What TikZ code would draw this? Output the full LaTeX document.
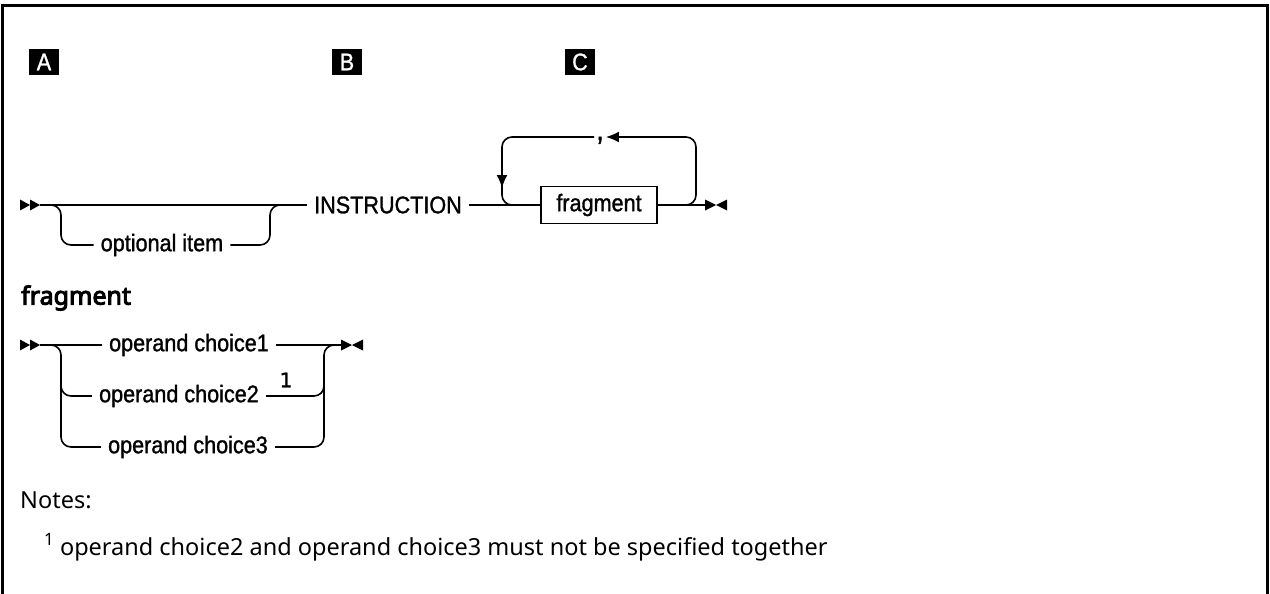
\documentclass[tikz,border=0pt]{standalone}
\usepackage{fontspec}
\setmainfont{Noto Sans}
\newfontfamily\headfont[FakeBold=4]{Noto Sans}
\newfontfamily\rrfont[FakeStretch=0.9, FakeBold=1.2]{Liberation Sans}
\newfontfamily\supfont[FakeBold=1.5]{DejaVu Sans}
\usetikzlibrary{calc, positioning, arrows.meta}

\tikzset{
  rail/.style={line width=1.6pt, rounded corners=10pt},
  rr/.style={font=\rrfont\fontsize{24}{28}\selectfont, inner xsep=7pt, inner ysep=0pt},
  marker/.style={fill=black, text=white, font=\rrfont\fontsize{24}{28}\selectfont,
    minimum width=30pt, minimum height=26pt, inner sep=0pt},
  tip/.style={fill=black},
  notes/.style={font=\fontsize{23.5}{29}\selectfont, anchor=west, inner sep=0pt}
}

\newcommand{\startmark}[1]{% two filled triangles
  \fill[tip] ($(#1)+(-20,-5.5)$) -- ($(#1)+(-10,0)$) -- ($(#1)+(-20,5.5)$) -- cycle;
  \fill[tip] ($(#1)+(-10,-5.5)$) -- ($(#1)+(0,0)$) -- ($(#1)+(-10,5.5)$) -- cycle;
}
\newcommand{\stopmark}[1]{% bow tie
  \fill[tip] ($(#1)+(0,-5.5)$) -- ($(#1)+(11,0)$) -- ($(#1)+(0,5.5)$) -- cycle;
  \fill[tip] ($(#1)+(22,-5.5)$) -- ($(#1)+(11,0)$) -- ($(#1)+(22,5.5)$) -- cycle;
}

\begin{document}
\begin{tikzpicture}[x=1pt, y=-1pt, >={Latex[length=13pt, width=11pt]}]
  \useasboundingbox (0,0) rectangle (1270,594);
  % frame, open at the bottom
  \draw[line width=3pt] (2,600) -- (2,6) -- (1267,6) -- (1267,600);

  % markers
  \node[marker] (mA) at (44,62) {A};
  \node[marker] (mB) at (347,62) {B};
  \node[marker] (mC) at (580,62) {C};

  % main statement
  \coordinate (s1) at (40,205);
  \startmark{s1}
  \node[rr] (opt) at (162,245) {optional item};
  \node[rr] (instr) at (388,205) {INSTRUCTION};
  \node[draw, line width=1.6pt, font=\rrfont\fontsize{24}{28}\selectfont,
    minimum width=116pt, minimum height=37pt, inner sep=0pt] (fragbox) at (599,205) {fragment};
  \node[font=\rrfont\fontsize{30}{32}\selectfont, inner sep=0pt, anchor=base] (comma) at (600,140) {,};
  \coordinate (e1) at (705,205);

  \draw[rail] (s1) -- (instr.west);
  \draw[rail] (51,205) -- (61,205) -- (61,245) -- (opt.west);
  \draw[rail] (opt.east) -- (270,245) -- (270,205) -- (280,205);
  \draw[rail] (instr.east) -- (fragbox.west);
  \draw[rail] (fragbox.east) -- (e1);
  \draw[rail, ->] (676,205) -- (696,205) -- (696,137) -- ([xshift=2pt]comma.east |- 0,137);
  \draw[rail, ->] ([xshift=-2pt]comma.west |- 0,137) -- (502,137) -- (502,188);
  \draw[rail] (502,184) -- (502,205) -- (522,205);
  \stopmark{e1}

  % fragment
  \node[font=\headfont\fontsize{25}{29}\selectfont, anchor=west, inner sep=0pt] (fraghead) at (21,298) {fragment};
  \coordinate (s2) at (40,345);
  \startmark{s2}
  \node[rr] (ch1) at (189,345) {operand choice1};
  \node[rr] (ch2) at (179,396) {operand choice2};
  \node[rr] (ch3) at (188,447) {operand choice3};
  \node[font=\supfont\fontsize{20}{22}\selectfont, inner sep=0pt] (fn1) at (286,380) {1};
  \coordinate (e2) at (341,345);

  \draw[rail] (s2) -- (ch1.west);
  \draw[rail] (ch1.east) -- (e2);
  \draw[rail] (51,345) -- (61,345) -- (61,396) -- (ch2.west);
  \draw[rail] (61,380) -- (61,447) -- (ch3.west);
  \draw[rail] (ch2.east) -- (324,396) -- (324,345) -- (334,345);
  \draw[rail] (ch3.east) -- (324,447) -- (324,380);
  \stopmark{e2}

  % notes
  \node[notes] (notes) at (20,500) {Notes:};
  \node[notes] (fn) at (44,547) {\raisebox{0.42em}{\fontsize{17}{18}\selectfont 1} operand choice2 and operand choice3 must not be specified together};
\end{tikzpicture}
\end{document}
